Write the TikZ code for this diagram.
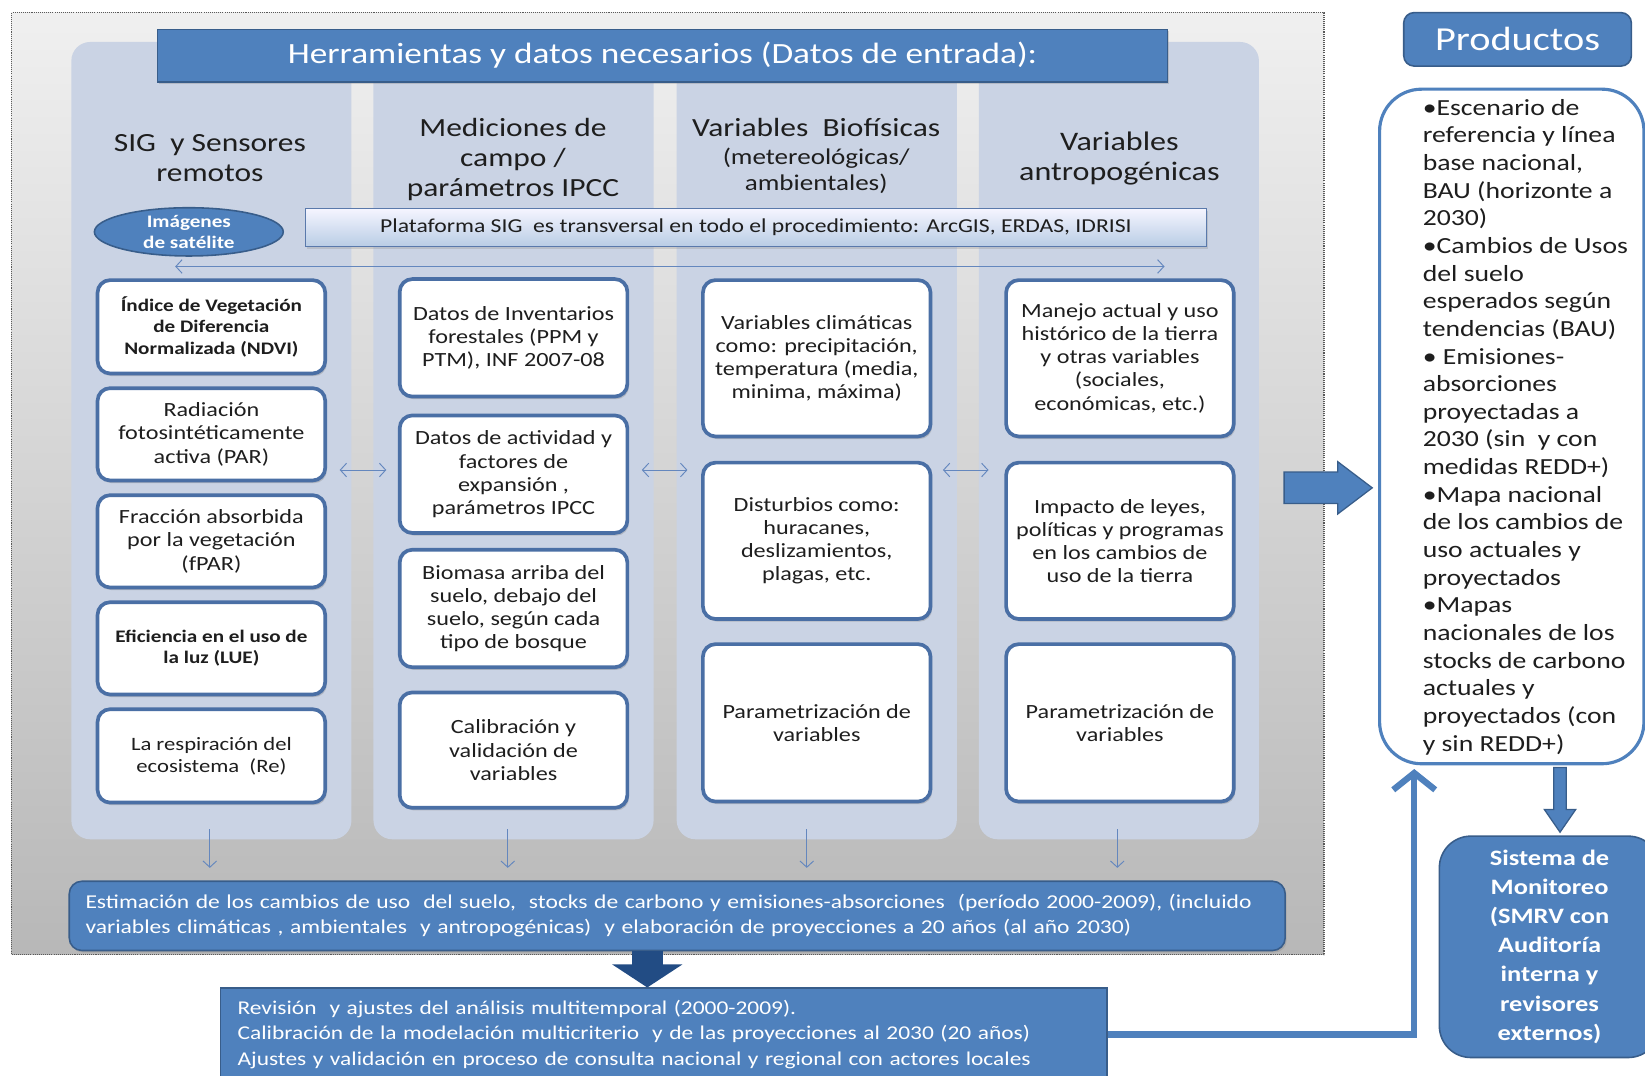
\documentclass[tikz,border=0pt]{standalone}
\usepackage{fontspec}
\setmainfont{Carlito}[FakeStretch=1.2]
\usetikzlibrary{shapes.geometric,arrows.meta,calc,shadows}
\definecolor{blu}{RGB}{79,129,189}
\definecolor{blub}{RGB}{56,93,138}
\definecolor{panelc}{RGB}{202,211,228}
\definecolor{boxb}{RGB}{74,111,165}
\definecolor{arrc}{RGB}{100,135,190}
\definecolor{dkblue}{RGB}{34,76,132}
\definecolor{txtc}{RGB}{30,30,30}
\newcommand\boxfont{\fontsize{19.2}{22}\selectfont}
\newcommand\smallbfont{\fontsize{16.8}{20.5}\selectfont\bfseries}
\newcommand\hdfont{\fontsize{25}{28.5}\selectfont}
\tikzset{
  panel/.style={fill=panelc, rounded corners=18pt, minimum width=267pt, minimum height=760pt, draw=none, inner sep=0pt},
  wbox/.style={draw=boxb, line width=3.5pt, fill=white, rounded corners=12pt, align=center, minimum width=217pt, inner sep=2pt,
     drop shadow={shadow xshift=1.5pt, shadow yshift=-2.5pt, opacity=0.35}, font=\boxfont, text=txtc},
  bluebox/.style={fill=blu, draw=blub, line width=1.5pt, text=white, inner sep=0pt},
  hdr/.style={align=center, font=\hdfont, text=txtc, inner sep=0pt},
  thinarr/.style={draw=arrc, line width=0.9pt, {Straight Barb[length=6pt,width=13pt]}-{Straight Barb[length=6pt,width=13pt]}},
  downarr/.style={draw=arrc, line width=0.9pt, -{Straight Barb[length=6pt,width=13pt]}},
  blockarr/.style={fill=blu, draw=blub, line width=1.2pt},
}
\begin{document}
\begin{tikzpicture}[x=1pt,y=-1pt]
\useasboundingbox (0,0) rectangle (1568,1025);
\fill[white] (0,0) rectangle (1568,1025);
% gray frame
\node[draw=black!65, densely dotted, line width=1pt, top color=black!6, bottom color=black!28, minimum width=1251pt, minimum height=898pt, inner sep=0pt] (frame) at (636.5,461) {};
% column panels
\node[panel] (p1) at (201.5,420) {};
\node[panel] (p2) at (489.5,420) {};
\node[panel] (p3) at (778.5,420) {};
\node[panel] (p4) at (1066.5,420) {};
% title
\node[bluebox, minimum width=963pt, minimum height=50pt, font=\fontsize{28}{32}\selectfont, drop shadow={shadow xshift=1.5pt, shadow yshift=-2pt, opacity=0.3}] (title) at (631.5,53) {Herramientas y datos necesarios (Datos de entrada):};
% headers
\node[hdr] (h1) at (200,151) {SIG~ y Sensores\\remotos};
\node[hdr] (h2) at (489,152) {Mediciones de\\campo /\\parámetros IPCC};
\node[hdr, anchor=north] (h3a) at (778,113) {Variables~ Biofísicas};
\node[hdr, anchor=north, font=\fontsize{21.5}{24.5}\selectfont] (h3b) at (778,141) {(metereológicas/\\ambientales)};
\node[hdr, font=\fontsize{25.5}{28.5}\selectfont] (h4) at (1067,151) {Variables\\antropogénicas};
% satellite ellipse
\node[ellipse, bluebox, minimum width=180pt, minimum height=46pt, align=center, font=\fontsize{16.8}{20}\selectfont\bfseries] (img) at (180,221) {Imágenes\\de satélite};
% platform bar
\node[draw=black!10!arrc, line width=1pt, top color=blue!4!white, bottom color=blu!40!white, minimum width=859pt, minimum height=36pt, inner sep=0pt, font=\fontsize{18.8}{20}\selectfont, text=txtc, drop shadow={shadow xshift=1.5pt, shadow yshift=-2pt, opacity=0.25}] (plat) at (720.5,217) {Plataforma SIG~ es transversal en todo el procedimiento: ArcGIS, ERDAS, IDRISI};
\coordinate (hl) at (167,254);
\coordinate (hr) at (1110,254);
\draw[thinarr] (hl) -- (hr);
% column 1 boxes
\node[wbox, minimum height=89pt, font=\smallbfont] (b11) at (201.5,311.5) {Índice de Vegetación\\de Diferencia\\Normalizada (NDVI)};
\node[wbox, minimum height=88pt] (b12) at (201.5,414) {Radiación\\fotosintéticamente\\activa (PAR)};
\node[wbox, minimum height=88pt] (b13) at (201.5,516) {Fracción absorbida\\por la vegetación\\(fPAR)};
\node[wbox, minimum height=88pt, font=\smallbfont] (b14) at (201.5,618) {Eficiencia en el uso de\\la luz (LUE)};
\node[wbox, minimum height=89pt, font=\fontsize{18}{21}\selectfont] (b15) at (201.5,720.5) {La respiración del\\ecosistema~ (Re)};
% column 2 boxes
\node[wbox, minimum height=112pt] (b21) at (489.5,322) {Datos de Inventarios\\forestales (PPM y\\PTM), INF 2007-08};
\node[wbox, minimum height=112pt] (b22) at (489.5,452) {Datos de actividad y\\factores de\\expansión ,\\parámetros IPCC};
\node[wbox, minimum height=112pt] (b23) at (489.5,580) {Biomasa arriba del\\suelo, debajo del\\suelo, según cada\\tipo de bosque};
\node[wbox, minimum height=110pt] (b24) at (489.5,715) {Calibración y\\validación de\\variables};
% column 3 boxes
\node[wbox, minimum height=149pt] (b31) at (778.5,341.5) {Variables climáticas\\como: precipitación,\\temperatura (media,\\minima, máxima)};
\node[wbox, minimum height=149pt] (b32) at (778.5,515.5) {Disturbios como:\\huracanes,\\deslizamientos,\\plagas, etc.};
\node[wbox, minimum height=150pt] (b33) at (778.5,689) {Parametrización de\\variables};
% column 4 boxes
\node[wbox, minimum height=149pt] (b41) at (1067.5,341.5) {Manejo actual y uso\\histórico de la tierra\\y otras variables\\(sociales,\\económicas, etc.)};
\node[wbox, minimum height=149pt] (b42) at (1067.5,515.5) {Impacto de leyes,\\políticas y programas\\en los cambios de\\uso de la tierra};
\node[wbox, minimum height=150pt] (b43) at (1067.5,689) {Parametrización de\\variables};
% arrows between columns
\draw[thinarr] ($(b12.east |- b22.west)+(12,-4)$) -- ($(b22.west)+(-11,-4)$);
\draw[thinarr] ($(b22.east)+(12,-4)$) -- ($(b32.west |- b22.east)+(-13,-4)$);
\draw[thinarr] ($(b32.east |- b22.east)+(10,-4)$) -- ($(b42.west |- b22.east)+(-15,-4)$);
% estimation box
\node[bluebox, rounded corners=12pt, minimum width=1159pt, minimum height=66pt, text width=1128pt, align=left, font=\fontsize{18.7}{24}\selectfont, drop shadow={shadow xshift=1.5pt, shadow yshift=-2pt, opacity=0.3}] (est) at (645.5,873) {Estimación de los cambios de uso~ del suelo,~ stocks de carbono y emisiones-absorciones~ (período 2000-2009), (incluido\\variables climáticas , ambientales~ y antropogénicas)~ y elaboración de proyecciones a 20 años (al año 2030)};
% down arrows
\draw[downarr] ($(p1.south)+(-1.5,-10)$) -- ($(p1.south |- est.north)+(-1.5,-12)$);
\draw[downarr] ($(p2.south)+(-5.5,-10)$) -- ($(p2.south |- est.north)+(-5.5,-12)$);
\draw[downarr] ($(p3.south)+(-9.5,-10)$) -- ($(p3.south |- est.north)+(-9.5,-12)$);
\draw[downarr] ($(p4.south)+(-1.5,-10)$) -- ($(p4.south |- est.north)+(-1.5,-12)$);
% revision box
\node[bluebox, minimum width=845pt, minimum height=88pt, text width=812pt, align=left, font=\fontsize{18.6}{24}\selectfont] (rev) at (632.5,986) {Revisión~ y ajustes del análisis multitemporal (2000-2009).\\Calibración de la modelación multicriterio~ y de las proyecciones al 2030 (20 años)\\Ajustes y validación en proceso de consulta nacional y regional con actores locales};
% big down arrow
\coordinate (ba) at (617,906);
\draw[line width=30pt, draw=dkblue, -{Triangle[length=22pt,width=66pt]}] (ba) -- (ba |- rev.north);
% products
\node[bluebox, rounded corners=10pt, minimum width=217pt, minimum height=51pt, font=\fontsize{32}{34}\selectfont] (ptitle) at (1446.5,37.5) {Productos};
\node[draw=blu, line width=3pt, fill=white, rounded corners=40pt, minimum width=252pt, minimum height=643pt, inner sep=0pt] (prod) at (1441,406.5) {};
\node[anchor=west, align=left, inner sep=0pt, text=txtc, font=\fontsize{22}{26.35}\selectfont] (prodtxt) at (1356,407) {•Escenario de\\referencia y línea\\base nacional,\\BAU (horizonte a\\2030)\\•Cambios de Usos\\del suelo\\esperados según\\tendencias (BAU)\\• Emisiones-\\absorciones\\proyectadas a\\2030 (sin~ y con\\medidas REDD+)\\•Mapa nacional\\de los cambios de\\uso actuales y\\proyectados\\•Mapas\\nacionales de los\\stocks de carbono\\actuales y\\proyectados (con\\y sin REDD+)};
% sistema
\node[bluebox, rounded corners=30pt, minimum width=210pt, minimum height=211pt, align=center, font=\fontsize{21}{27.7}\selectfont\bfseries] (sis) at (1477,902.5) {Sistema de\\Monitoreo\\(SMRV con\\Auditoría\\interna y\\revisores\\externos)};
% right block arrow
\coordinate (ra) at (1224,465);
\draw[blockarr] (ra) ++(0,-15) -- ++(51,0) -- ++(0,-10) -- ($(ra)+(84,0)$) -- ($(ra)+(51,25)$) -- ++(0,-10) -- ($(ra)+(0,15)$) -- cycle;
% down block arrow products -> sistema
\coordinate (da) at ($(prod.south)+(46,2)$);
\draw[blockarr] ($(da)+(-6,0)$) -- ($(da)+(6,0)$) -- ($(da)+(6,40)$) -- ($(da)+(15,40)$) -- ($(da |- sis.north)+(0,-3)$) -- ($(da)+(-15,40)$) -- ($(da)+(-6,40)$) -- cycle;
% connector revision -> products
\coordinate (pa) at (1348,733);
\draw[line width=6pt, draw=blu, -{Straight Barb[length=16pt,width=40pt]}] (rev.east) -| (pa);
\end{tikzpicture}
\end{document}
